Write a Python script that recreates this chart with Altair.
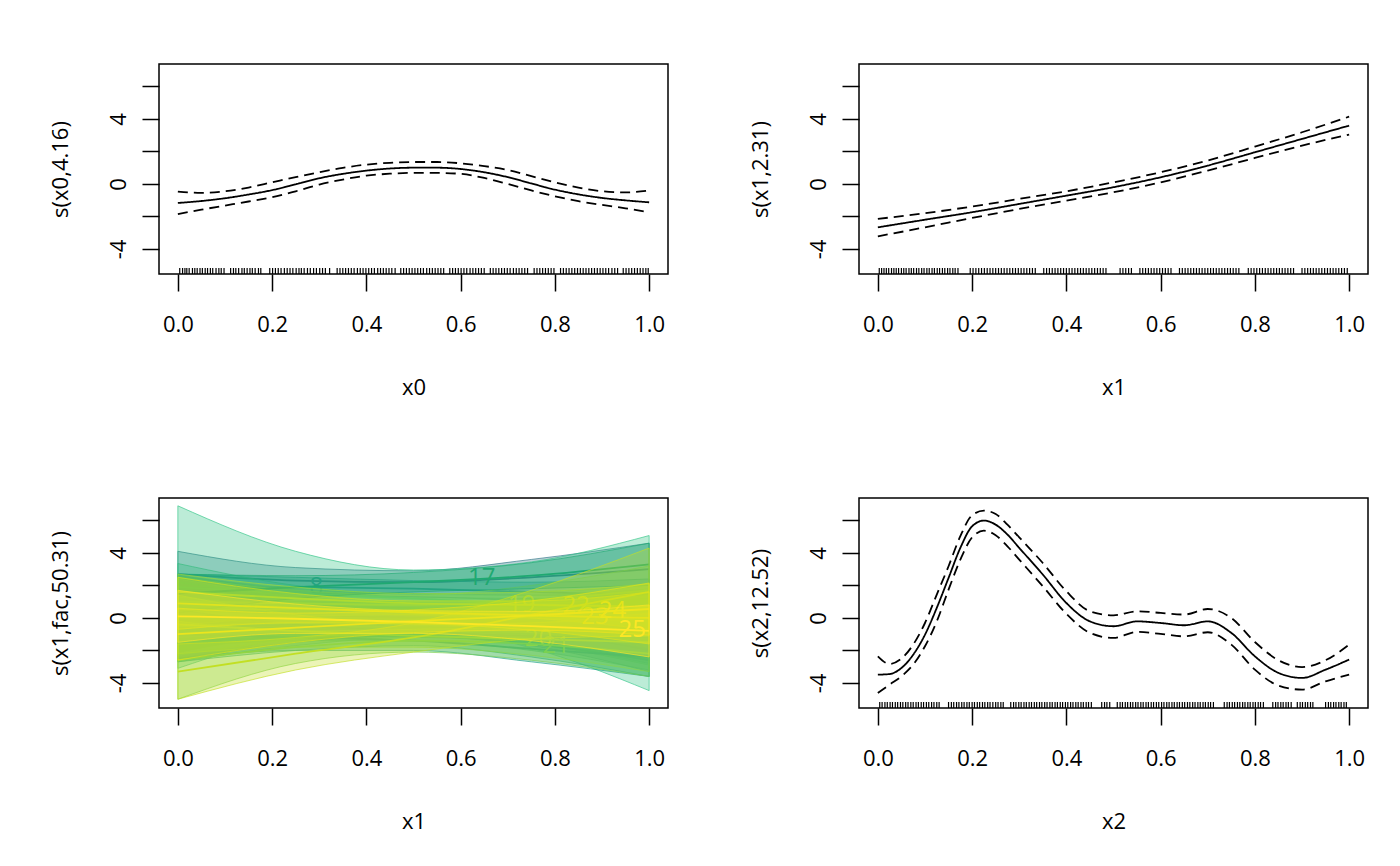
import altair as alt
import numpy as np
import pandas as pd

FONT = "Open Sans"
FS = 22
W, H = 509, 210
XDOM = [-0.04, 1.04]
YDOM = [-5.54, 7.38]
X_TICKS = [0.0, 0.2, 0.4, 0.6, 0.8, 1.0]
Y_TICKS = [-4, -2, 0, 2, 4, 6]

# ---------------- panel 1: s(x0,4.16) ----------------
s0_x = [0.00, 0.05, 0.10, 0.15, 0.20, 0.25, 0.30, 0.35, 0.40, 0.45, 0.50,
        0.55, 0.60, 0.65, 0.70, 0.75, 0.80, 0.85, 0.90, 0.95, 1.00]
s0_fit = [-1.17, -1.05, -0.88, -0.65, -0.38, -0.02, 0.35, 0.62, 0.82, 0.95, 1.00,
          1.00, 0.92, 0.72, 0.42, 0.03, -0.35, -0.64, -0.86, -1.01, -1.13]
s0_hi = [-0.47, -0.55, -0.45, -0.22, 0.10, 0.42, 0.72, 0.99, 1.19, 1.30, 1.35,
         1.35, 1.27, 1.10, 0.86, 0.48, 0.10, -0.22, -0.45, -0.52, -0.41]
s0_lo = [-1.85, -1.58, -1.33, -1.08, -0.82, -0.45, -0.04, 0.27, 0.51, 0.63, 0.68,
         0.68, 0.62, 0.37, 0.00, -0.40, -0.76, -1.06, -1.29, -1.50, -1.74]

# ---------------- panel 2: s(x1,2.31) ----------------
s1_x = [0.0, 0.1, 0.2, 0.3, 0.4, 0.5, 0.6, 0.7, 0.8, 0.9, 1.0]
s1_fit = [-2.67, -2.20, -1.74, -1.23, -0.72, -0.20, 0.41, 1.13, 1.95, 2.77, 3.59]
s1_hi = [-2.15, -1.80, -1.39, -0.92, -0.45, 0.10, 0.72, 1.44, 2.30, 3.18, 4.14]
s1_lo = [-3.22, -2.67, -2.09, -1.54, -1.03, -0.51, 0.10, 0.82, 1.60, 2.36, 3.04]

# ---------------- panel 4: s(x2,12.52) ----------------
s2_x = [0.000, 0.025, 0.050, 0.075, 0.100, 0.125, 0.150, 0.175, 0.200, 0.225,
        0.250, 0.275, 0.300, 0.350, 0.400, 0.450, 0.500, 0.550, 0.600, 0.650,
        0.700, 0.750, 0.800, 0.850, 0.900, 0.950, 1.000]
s2_fit = [-3.49, -3.45, -3.08, -2.26, -1.03, 0.62, 2.46, 4.31, 5.64, 5.99,
          5.74, 5.13, 4.31, 2.67, 0.92, -0.21, -0.51, -0.21, -0.31, -0.45,
          -0.21, -0.92, -2.36, -3.38, -3.69, -3.18, -2.56]
s2_hi = [-2.36, -2.83, -2.50, -1.64, -0.31, 1.44, 3.18, 5.03, 6.32, 6.60,
         6.40, 5.74, 4.96, 3.38, 1.64, 0.41, 0.16, 0.41, 0.31, 0.21,
         0.55, 0.00, -1.48, -2.60, -3.02, -2.60, -1.64]
s2_lo = [-4.62, -4.10, -3.59, -2.87, -1.74, -0.21, 1.74, 3.59, 4.96, 5.37,
         5.09, 4.41, 3.59, 1.95, 0.25, -0.92, -1.23, -0.86, -0.98, -1.13,
         -0.88, -1.64, -3.18, -4.16, -4.41, -3.90, -3.49]

# ---------------- rugs ----------------
rug_x0 = [0.004, 0.010, 0.015, 0.019, 0.024, 0.031, 0.036, 0.041, 0.047, 0.052, 0.058, 0.063,
          0.069, 0.074, 0.081, 0.087, 0.092, 0.098, 0.112, 0.118, 0.123, 0.129, 0.136, 0.141,
          0.147, 0.153, 0.158, 0.164, 0.171, 0.176, 0.195, 0.201, 0.207, 0.213, 0.219, 0.226,
          0.232, 0.238, 0.244, 0.251, 0.257, 0.262, 0.268, 0.275, 0.281, 0.288, 0.294, 0.301,
          0.307, 0.313, 0.322, 0.338, 0.344, 0.350, 0.356, 0.362, 0.368, 0.374, 0.381, 0.387,
          0.393, 0.399, 0.405, 0.411, 0.417, 0.424, 0.430, 0.436, 0.442, 0.448, 0.454, 0.461,
          0.473, 0.479, 0.485, 0.491, 0.497, 0.503, 0.509, 0.515, 0.521, 0.528, 0.534, 0.540,
          0.546, 0.552, 0.558, 0.564, 0.577, 0.583, 0.589, 0.595, 0.601, 0.607, 0.613, 0.620,
          0.626, 0.632, 0.638, 0.644, 0.650, 0.663, 0.669, 0.675, 0.681, 0.687, 0.693, 0.699,
          0.705, 0.712, 0.718, 0.724, 0.730, 0.736, 0.742, 0.756, 0.762, 0.768, 0.774, 0.780,
          0.786, 0.792, 0.798, 0.812, 0.818, 0.824, 0.830, 0.836, 0.842, 0.848, 0.854, 0.860,
          0.866, 0.872, 0.878, 0.884, 0.890, 0.896, 0.902, 0.908, 0.914, 0.921, 0.927, 0.933,
          0.945, 0.951, 0.957, 0.963, 0.969, 0.975, 0.981, 0.987, 0.993, 0.998]
rug_x1 = [0.003, 0.008, 0.013, 0.018, 0.023, 0.029, 0.034, 0.039, 0.044, 0.050, 0.055, 0.060,
          0.066, 0.071, 0.076, 0.082, 0.087, 0.093, 0.098, 0.104, 0.109, 0.115, 0.120, 0.126,
          0.131, 0.137, 0.142, 0.148, 0.153, 0.159, 0.164, 0.170, 0.196, 0.202, 0.208, 0.214,
          0.220, 0.226, 0.232, 0.238, 0.244, 0.250, 0.256, 0.262, 0.268, 0.274, 0.280, 0.286,
          0.292, 0.298, 0.304, 0.310, 0.316, 0.322, 0.328, 0.334, 0.352, 0.358, 0.364, 0.370,
          0.376, 0.382, 0.388, 0.394, 0.400, 0.406, 0.412, 0.418, 0.424, 0.430, 0.436, 0.442,
          0.448, 0.454, 0.460, 0.466, 0.472, 0.478, 0.484, 0.514, 0.520, 0.526, 0.532, 0.538,
          0.556, 0.562, 0.568, 0.574, 0.580, 0.586, 0.592, 0.598, 0.604, 0.610, 0.616, 0.622,
          0.640, 0.646, 0.652, 0.658, 0.664, 0.670, 0.676, 0.682, 0.688, 0.694, 0.700, 0.706,
          0.712, 0.718, 0.724, 0.730, 0.736, 0.742, 0.748, 0.754, 0.760, 0.766, 0.786, 0.792,
          0.798, 0.804, 0.810, 0.816, 0.822, 0.828, 0.834, 0.840, 0.846, 0.852, 0.858, 0.864,
          0.870, 0.876, 0.882, 0.900, 0.906, 0.912, 0.918, 0.924, 0.930, 0.936, 0.942, 0.948,
          0.954, 0.960, 0.966, 0.972, 0.978, 0.984, 0.990, 0.996]
rug_x2 = [0.004, 0.009, 0.015, 0.020, 0.026, 0.031, 0.037, 0.042, 0.048, 0.053, 0.059, 0.064,
          0.070, 0.075, 0.081, 0.086, 0.092, 0.097, 0.103, 0.108, 0.114, 0.119, 0.125, 0.130,
          0.150, 0.156, 0.161, 0.167, 0.172, 0.178, 0.183, 0.189, 0.194, 0.200, 0.205, 0.211,
          0.216, 0.222, 0.227, 0.233, 0.238, 0.244, 0.250, 0.255, 0.261, 0.266, 0.282, 0.288,
          0.293, 0.299, 0.304, 0.310, 0.315, 0.321, 0.326, 0.332, 0.337, 0.343, 0.348, 0.354,
          0.359, 0.365, 0.370, 0.376, 0.381, 0.387, 0.392, 0.398, 0.403, 0.409, 0.414, 0.420,
          0.425, 0.431, 0.436, 0.442, 0.447, 0.453, 0.475, 0.481, 0.486, 0.492, 0.508, 0.514,
          0.519, 0.525, 0.530, 0.536, 0.541, 0.547, 0.552, 0.558, 0.563, 0.569, 0.574, 0.580,
          0.585, 0.591, 0.596, 0.602, 0.607, 0.613, 0.618, 0.624, 0.629, 0.635, 0.640, 0.646,
          0.651, 0.657, 0.662, 0.668, 0.673, 0.679, 0.684, 0.690, 0.695, 0.701, 0.706, 0.712,
          0.735, 0.741, 0.746, 0.752, 0.757, 0.763, 0.768, 0.774, 0.779, 0.785, 0.790, 0.796,
          0.801, 0.807, 0.812, 0.818, 0.838, 0.844, 0.849, 0.855, 0.860, 0.866, 0.871, 0.877,
          0.890, 0.896, 0.901, 0.907, 0.912, 0.918, 0.923, 0.950, 0.956, 0.961, 0.967, 0.972,
          0.978, 0.983, 0.989, 0.994]

# ---------------- panel 3: s(x1,fac,50.31) factor smooths ----------------
fs_x = [0.0, 0.25, 0.5, 0.75, 1.0]
fs_fit = [
    [0.5, 0.2, 0.0, -0.3, -0.6],
    [-0.5, -0.4, -0.3, -0.6, -1.2],
    [1.0, 0.8, 0.6, 0.3, 0.0],
    [2.7, 2.3, 2.2, 2.5, 3.0],
    [-0.8, -0.5, -0.3, -0.5, -1.0],
    [1.2, 1.0, 0.9, 0.8, 0.6],
    [0.0, -0.4, -0.7, -1.0, -1.4],
    [1.8, 1.9, 1.8, 1.6, 1.4],
    [-1.3, -0.9, -0.6, -0.8, -1.4],
    [2.2, 1.3, 0.9, 0.7, 0.6],
    [-0.5, 0.0, 0.3, 0.1, -0.4],
    [1.9, 1.5, 1.2, 0.8, 0.3],
    [0.8, 0.4, 0.2, 0.0, -0.2],
    [-1.4, -1.2, -1.1, -1.6, -2.6],
    [1.0, 0.9, 0.8, 1.1, 1.7],
    [-1.0, -1.2, -1.4, -1.9, -2.4],
    [1.5, 1.9, 2.2, 2.6, 3.3],
    [-0.5, -0.3, -0.1, 0.1, 0.3],
    [1.6, 1.2, 0.9, 0.8, 0.7],
    [-0.4, -0.8, -1.1, -1.3, -1.5],
    [-2.6, -1.8, -1.4, -1.6, -2.2],
    [-3.3, -2.2, -1.2, 0.2, 1.6],
    [0.9, 0.6, 0.35, 0.15, 0.0],
    [-1.0, -0.6, -0.2, 0.15, 0.55],
    [0.1, -0.05, -0.25, -0.5, -0.8],
]
fs_halfwidth = [
    [2.0, 1.1, 0.8, 1.1, 2.0],
    [2.0, 1.1, 0.8, 1.1, 2.1],
    [1.6, 0.9, 0.7, 0.9, 1.6],
    [1.4, 0.8, 0.7, 1.1, 1.6],
    [1.8, 1.0, 0.7, 1.0, 1.8],
    [1.4, 0.8, 0.6, 0.8, 1.4],
    [1.8, 1.0, 0.7, 1.0, 1.8],
    [0.9, 0.6, 0.5, 0.6, 1.0],
    [1.4, 0.8, 0.6, 0.8, 1.5],
    [1.15, 0.7, 0.55, 0.7, 1.2],
    [1.6, 0.9, 0.7, 0.9, 1.6],
    [5.0, 2.6, 1.75, 2.65, 4.77],
    [1.6, 0.9, 0.7, 0.9, 1.6],
    [1.3, 0.8, 0.6, 0.8, 1.0],
    [1.5, 0.8, 0.6, 0.9, 1.5],
    [1.5, 0.8, 0.6, 0.8, 1.2],
    [1.2, 0.7, 0.6, 0.8, 1.3],
    [1.8, 1.0, 0.7, 1.0, 1.8],
    [1.1, 0.7, 0.6, 0.8, 1.4],
    [1.8, 1.0, 0.7, 1.0, 1.8],
    [2.4, 1.0, 0.7, 1.0, 1.4],
    [1.7, 1.0, 0.9, 1.5, 2.7],
    [1.6, 0.9, 0.7, 0.9, 1.6],
    [1.6, 0.9, 0.7, 0.9, 1.6],
    [1.6, 0.9, 0.7, 0.9, 1.6],
]
fs_levels = list(range(1, 26))
fs_label_x = [0.018, 0.057, 0.097, 0.136, 0.176, 0.215, 0.254, 0.294, 0.333, 0.373,
              0.412, 0.451, 0.491, 0.530, 0.570, 0.609, 0.645, 0.688, 0.729, 0.765,
              0.803, 0.845, 0.885, 0.922, 0.964]
fs_labelled = [8, 17, 19, 20, 21, 22, 23, 24, 25]
fs_colors = ["#2A788E", "#25848E", "#1F9A8A", "#2E7485", "#1E9B8A", "#22A884", "#2DB27D",
             "#21908C", "#3DBC74", "#35B779", "#29AF7F", "#33C487", "#5EC962", "#28AE80",
             "#7AD151", "#20A386", "#1FA971", "#52C569", "#9FDA3A", "#8FD744", "#7AD151",
             "#C2DF23", "#D2E21B", "#E5E419", "#FDE725"]

LABEL_EXPR = ("datum.value % 4 == 0 ? (datum.value < 0 ? '-' + abs(datum.value) : '' + datum.value) : ''")

xsc = alt.Scale(domain=XDOM, nice=False, zero=False)
ysc = alt.Scale(domain=YDOM, nice=False, zero=False)


def x_axis(title):
    return alt.Axis(
        title=title, values=X_TICKS, format=".1f", grid=False, domain=False,
        tickSize=17, tickWidth=1.5, tickColor="black",
        labelFont=FONT, labelFontSize=FS, labelColor="black", labelAngle=0,
        labelAlign="center", labelBaseline="alphabetic", labelPadding=40,
        labelFlush=False, labelOverlap=False,
        titleFont=FONT, titleFontSize=FS, titleFontWeight="normal", titleColor="black",
        titleX=W / 2, titleY=120, titleAlign="center", titleBaseline="alphabetic", titleAngle=0)


def y_axis(title):
    return alt.Axis(
        title=title, values=Y_TICKS, labelExpr=LABEL_EXPR, grid=False, domain=False,
        tickSize=17, tickWidth=1.5, tickColor="black",
        labelFont=FONT, labelFontSize=FS, labelColor="black", labelAngle=270,
        labelAlign="center", labelBaseline="alphabetic", labelPadding=17,
        labelOverlap=False, labelFlush=False,
        titleFont=FONT, titleFontSize=FS, titleFontWeight="normal", titleColor="black",
        titleX=-92, titleY=H / 2, titleAlign="center", titleBaseline="alphabetic", titleAngle=270)


def smooth_panel(xv, fit, lo, hi, rug, xtitle, ytitle):
    rows = []
    for kind, arr in (("fit", fit), ("lo", lo), ("hi", hi)):
        for a, b in zip(xv, arr):
            rows.append({"x": a, "y": b, "kind": kind})
    df = pd.DataFrame(rows)
    xa = x_axis(xtitle)
    ya = y_axis(ytitle)
    lines = alt.Chart(df).mark_line(color="black", strokeWidth=1.8, interpolate="monotone").encode(
        x=alt.X("x:Q", scale=xsc, axis=xa),
        y=alt.Y("y:Q", scale=ysc, axis=ya),
        detail="kind:N",
        strokeDash=alt.StrokeDash("kind:N", scale=alt.Scale(domain=["fit", "lo", "hi"],
                                  range=[[1, 0], [10, 6], [10, 6]]), legend=None),
    )
    rug_df = pd.DataFrame({"x": rug})
    rugs = alt.Chart(rug_df).mark_rule(color="black", strokeWidth=1.2).encode(
        x=alt.X("x:Q", scale=xsc, axis=xa),
        y=alt.value(H), y2=alt.value(H - 6),
    )
    return alt.layer(lines, rugs).properties(width=W, height=H)


def fs_panel():
    rows = []
    for lev, fit, hw in zip(fs_levels, fs_fit, fs_halfwidth):
        for a, f, h in zip(fs_x, fit, hw):
            rows.append({"level": lev, "x": a, "fit": f, "lo": f - h, "hi": f + h})
    df = pd.DataFrame(rows)
    lab_rows = []
    for lev, lx, fit in zip(fs_levels, fs_label_x, fs_fit):
        if lev in fs_labelled:
            lab_rows.append({"level": lev, "x": lx, "y": float(np.interp(lx, fs_x, fit)),
                             "text": str(lev)})
    ldf = pd.DataFrame(lab_rows)
    xa = x_axis("x1")
    ya = y_axis("s(x1,fac,50.31)")
    X = alt.X("x:Q", scale=xsc, axis=xa)
    layers = []
    for i, lev in enumerate(fs_levels):
        col = fs_colors[i]
        base = alt.Chart(df).transform_filter(alt.datum.level == lev)
        area = base.mark_area(interpolate="monotone", fill=col, fillOpacity=0.33,
                              stroke=col, strokeOpacity=0.65, strokeWidth=1).encode(
            x=X,
            y=alt.Y("lo:Q", scale=ysc, axis=ya),
            y2="hi:Q",
        )
        line = base.mark_line(interpolate="monotone", color=col, strokeWidth=1.8).encode(
            x=X,
            y=alt.Y("fit:Q", scale=ysc, axis=ya),
        )
        layers += [area, line]
        if lev in fs_labelled:
            txt = alt.Chart(ldf).transform_filter(alt.datum.level == lev).mark_text(
                font=FONT, fontSize=24, color=col, align="center", baseline="middle").encode(
                x=X,
                y=alt.Y("y:Q", scale=ysc, axis=ya),
                text="text:N",
            )
            layers.append(txt)
    return alt.layer(*layers).properties(width=W, height=H)


p1 = smooth_panel(s0_x, s0_fit, s0_lo, s0_hi, rug_x0, "x0", "s(x0,4.16)")
p2 = smooth_panel(s1_x, s1_fit, s1_lo, s1_hi, rug_x1, "x1", "s(x1,2.31)")
p3 = fs_panel()
p4 = smooth_panel(s2_x, s2_fit, s2_lo, s2_hi, rug_x2, "x2", "s(x2,12.52)")

chart = alt.concat(p1, p2, p3, p4, columns=2, spacing={"row": 224, "column": 191},
                   bounds="flush").properties(
    padding={"left": 40, "top": 55, "right": 5, "bottom": 5},
    background="white",
).configure_view(stroke="black", strokeWidth=1.5)

chart.save("out.html", embed_options={"renderer": "svg", "actions": False})
